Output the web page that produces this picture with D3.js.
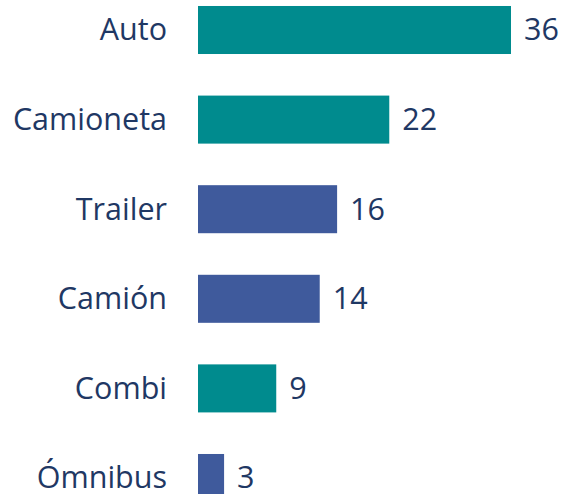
<!DOCTYPE html>
<html><head><meta charset="utf-8">
<script src="https://cdn.jsdelivr.net/npm/d3@7"></script>
<style>html,body{margin:0;padding:0;background:#fff;overflow:hidden}</style>
</head><body>
<svg id="c" width="564" height="494"></svg>
<script>
const categories = ["Auto","Camioneta","Trailer","Camión","Combi","Ómnibus"];
const values = [36,22,16,14,9,3];
const groups = ["teal","teal","blue","blue","teal","blue"];
const colorMap = {teal:"#008b8e", blue:"#3f5a9c"};

const svg = d3.select("#c");
const x = d3.scaleLinear().domain([0,36]).range([198,511]);
const y = d3.scaleBand().domain(categories).range([-14.8,522.8]).paddingInner(0.464).paddingOuter(0.232);
const data = categories.map((c,i)=>({c, v:values[i], g:groups[i]}));

svg.selectAll("rect").data(data).join("rect")
  .attr("x", x(0)).attr("y", d=>y(d.c))
  .attr("width", d=>x(d.v)-x(0)).attr("height", y.bandwidth())
  .attr("fill", d=>colorMap[d.g]);

const font = "'Open Sans', sans-serif";
svg.selectAll("text.cat").data(data).join("text").attr("class","cat")
  .attr("x",167).attr("y",d=>y(d.c)+y.bandwidth()/2)
  .attr("dy","0.34em").attr("text-anchor","end")
  .style("font-family",font).style("font-size","30.5px").attr("fill","#1f3864")
  .text(d=>d.c);

svg.selectAll("text.val").data(data).join("text").attr("class","val")
  .attr("x",d=>x(d.v)+13).attr("y",d=>y(d.c)+y.bandwidth()/2)
  .attr("dy","0.34em").attr("text-anchor","start")
  .style("font-family",font).style("font-size","30.5px").attr("fill","#1f3864")
  .text(d=>d.v);
</script>
</body></html>
